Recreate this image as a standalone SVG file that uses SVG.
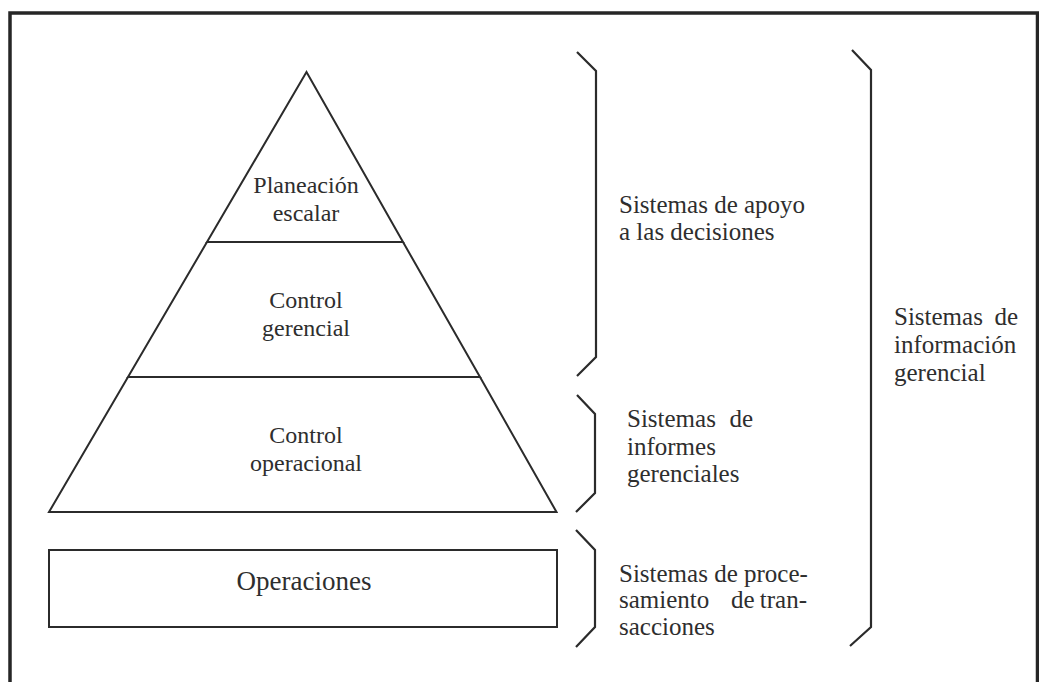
<svg xmlns="http://www.w3.org/2000/svg" width="1039" height="682" viewBox="0 0 1039 682">
  <style>
    .frame { fill: none; stroke: #262626; stroke-width: 3.5; }
    .shape { fill: none; stroke: #2b2b2b; stroke-width: 2; stroke-linejoin: miter; }
    .brace { fill: none; stroke: #2b2b2b; stroke-width: 2.2; stroke-linejoin: miter; }
    text { font-family: "Liberation Serif", "Times New Roman", serif; fill: #2e2e2e; }
    .lvl { font-size: 24px; text-anchor: middle; }
    .ops { font-size: 27px; text-anchor: middle; }
    .lbl { font-size: 25px; }
  </style>
  <rect width="1039" height="682" fill="#ffffff"/>

  <!-- outer frame (open at the bottom edge) -->
  <path class="frame" d="M10,682 V13 H1037.5 V682"/>

  <!-- pyramid levels -->
  <g id="planeacion-escalar">
    <path class="shape" d="M306.5,72 L207,242 H403 Z"/>
    <text class="lvl"><tspan x="306" y="193">Planeación</tspan><tspan x="306" y="221">escalar</tspan></text>
  </g>
  <g id="control-gerencial">
    <path class="shape" d="M207,242 L128,377 H480 L403,242"/>
    <text class="lvl"><tspan x="306" y="308">Control</tspan><tspan x="306" y="336">gerencial</tspan></text>
  </g>
  <g id="control-operacional">
    <path class="shape" d="M128,377 L49,512 H556.5 L480,377"/>
    <text class="lvl"><tspan x="306" y="443">Control</tspan><tspan x="306" y="471">operacional</tspan></text>
  </g>
  <g id="operaciones">
    <rect class="shape" x="49" y="550" width="508" height="77"/>
    <text class="ops" x="304" y="590">Operaciones</text>
  </g>

  <!-- braces grouping the levels -->
  <g id="braces">
    <path class="brace" d="M577,52 L596,71 V357 L577,376"/>
    <path class="brace" d="M577,395 L595,414 V493 L576,512"/>
    <path class="brace" d="M576,530 L595,550 V627 L576,647"/>
    <path class="brace" d="M852,50 L871,70 V627 L850,646"/>
  </g>

  <!-- system labels -->
  <g id="sistemas-apoyo-decisiones">
    <text class="lbl"><tspan x="619" y="213">Sistemas de apoyo</tspan><tspan x="619" y="240">a las decisiones</tspan></text>
  </g>
  <g id="sistemas-informes-gerenciales">
    <text class="lbl"><tspan x="627" y="427">Sistemas</tspan><tspan x="753" y="427" text-anchor="end">de</tspan><tspan x="627" y="455">informes</tspan><tspan x="627" y="482">gerenciales</tspan></text>
  </g>
  <g id="sistemas-procesamiento-transacciones">
    <text class="lbl"><tspan x="619" y="582">Sistemas de proce-</tspan><tspan x="619" y="608">samiento</tspan><tspan x="731" y="608">de</tspan><tspan x="807" y="608" text-anchor="end">tran-</tspan><tspan x="619" y="635">sacciones</tspan></text>
  </g>
  <g id="sistemas-informacion-gerencial">
    <text class="lbl"><tspan x="894" y="325">Sistemas</tspan><tspan x="1018" y="325" text-anchor="end">de</tspan><tspan x="894" y="353">información</tspan><tspan x="894" y="381">gerencial</tspan></text>
  </g>
</svg>
